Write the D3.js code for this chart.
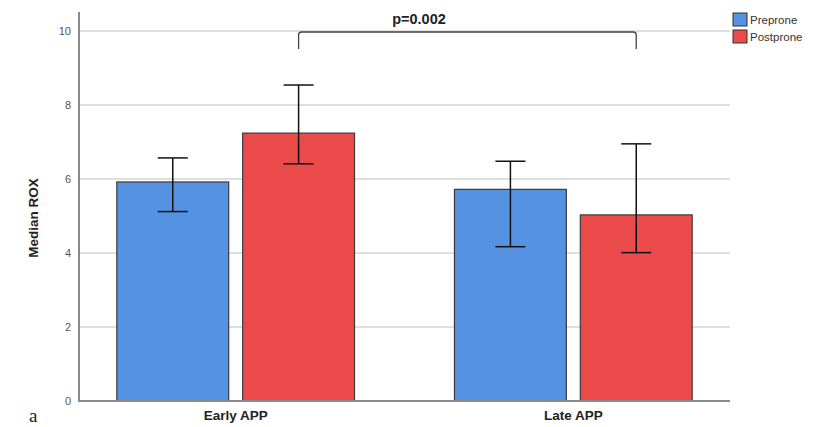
<!DOCTYPE html>
<html><head><meta charset="utf-8">
<script src="https://cdn.jsdelivr.net/npm/d3@7"></script>
<style>body{margin:0;background:#fff}svg{display:block}</style>
</head><body>
<svg id="c" width="820" height="427"></svg>
<script>
const categories = ["Early APP", "Late APP"];
const seriesNames = ["Preprone", "Postprone"];
const medians = [[5.92, 7.24], [5.72, 5.03]];
const errLow = [[5.12, 6.41], [4.17, 4.01]];
const errHigh = [[6.57, 8.54], [6.48, 6.95]];
const yTicks = [0, 2, 4, 6, 8, 10];
const colors = ["#5592e2", "#eb4b4b"];
const pText = "p=0.002";

(function(){
const svg = d3.select("#c");
const mLeft = 79, mRight = 730, mTop = 12, mBottom = 401;
const y = d3.scaleLinear().domain([0, 10]).range([mBottom, 31]);
const x0 = d3.scaleBand().domain(categories).range([mLeft, mRight]).paddingInner(0.296).paddingOuter(0.112);
const x1 = d3.scaleBand().domain(seriesNames).range([0, x0.bandwidth()]).paddingInner(0.111);

// gridlines
svg.append("g").selectAll("line").data(yTicks.filter(d => d > 0)).join("line")
  .attr("x1", mLeft).attr("x2", mRight).attr("y1", d => y(d)).attr("y2", d => y(d))
  .attr("stroke", "#d4d4d4").attr("stroke-width", 1.5);

// bars
const groups = svg.append("g").selectAll("g").data(categories).join("g")
  .attr("transform", d => `translate(${x0(d)},0)`);
groups.each(function(cat, ci) {
  const g = d3.select(this);
  seriesNames.forEach((s, si) => {
    g.append("rect").attr("x", x1(s)).attr("y", y(medians[ci][si]))
      .attr("width", x1.bandwidth()).attr("height", y(0) - y(medians[ci][si]))
      .attr("fill", colors[si]).attr("stroke", "#3a3a3a").attr("stroke-width", 1.2);
    const cx = x1(s) + x1.bandwidth() / 2;
    const lo = y(errLow[ci][si]), hi = y(errHigh[ci][si]);
    g.append("line").attr("x1", cx).attr("x2", cx).attr("y1", lo).attr("y2", hi)
      .attr("stroke", "#111").attr("stroke-width", 1.5);
    [lo, hi].forEach(v => g.append("line").attr("x1", cx - 15).attr("x2", cx + 15)
      .attr("y1", v).attr("y2", v).attr("stroke", "#111").attr("stroke-width", 1.5));
  });
});

// axes
const yAxis = svg.append("g").attr("transform", `translate(${mLeft},0)`)
  .call(d3.axisLeft(y).tickValues(yTicks).tickSize(0).tickPadding(8));
yAxis.select(".domain").remove();
yAxis.selectAll("text").attr("font-family", "Liberation Sans, Arial, sans-serif")
  .attr("font-size", 11).attr("fill", "#555");
svg.append("line").attr("x1", mLeft).attr("x2", mLeft).attr("y1", mTop).attr("y2", mBottom + 1)
  .attr("stroke", "#8a8a8a").attr("stroke-width", 2);
svg.append("line").attr("x1", mLeft).attr("x2", mRight).attr("y1", mBottom).attr("y2", mBottom)
  .attr("stroke", "#8a8a8a").attr("stroke-width", 2);

const xAxis = svg.append("g").attr("transform", `translate(0,${mBottom})`)
  .call(d3.axisBottom(x0).tickSize(0).tickPadding(9));
xAxis.select(".domain").remove();
xAxis.selectAll("text").attr("font-family", "Liberation Sans, Arial, sans-serif")
  .attr("font-size", 13.5).attr("font-weight", "bold").attr("fill", "#222");

// y label
svg.append("text").attr("transform", `translate(38,${(y(10) + mBottom) / 2 + 2}) rotate(-90)`)
  .attr("text-anchor", "middle").attr("font-family", "Liberation Sans, Arial, sans-serif")
  .attr("font-size", 13.5).attr("font-weight", "bold").attr("fill", "#222").text("Median ROX");

// panel letter
svg.append("text").attr("x", 29).attr("y", 422).attr("font-family", "Liberation Serif, Times New Roman, serif")
  .attr("font-size", 19).attr("fill", "#222").text("a");

// bracket
const bx1 = x0(categories[0]) + x1(seriesNames[1]) + x1.bandwidth() / 2;
const bx2 = x0(categories[1]) + x1(seriesNames[1]) + x1.bandwidth() / 2;
const by = 32, bEnd = 49, r = 3;
svg.append("path")
  .attr("d", `M${bx1},${bEnd} L${bx1},${by + r} Q${bx1},${by} ${bx1 + r},${by} L${bx2 - r},${by} Q${bx2},${by} ${bx2},${by + r} L${bx2},${bEnd}`)
  .attr("fill", "none").attr("stroke", "#444").attr("stroke-width", 1.3);
svg.append("text").attr("x", 419).attr("y", 24).attr("text-anchor", "middle")
  .attr("font-family", "Liberation Sans, Arial, sans-serif").attr("font-size", 14.5)
  .attr("font-weight", "bold").attr("fill", "#222").text(pText);

// legend
const lg = svg.append("g").selectAll("g").data(seriesNames).join("g")
  .attr("transform", (d, i) => `translate(733,${13 + i * 17})`);
lg.append("rect").attr("width", 14).attr("height", 13).attr("fill", (d, i) => colors[i])
  .attr("stroke", "#333").attr("stroke-width", 1);
lg.append("text").attr("x", 17).attr("y", 11).attr("font-family", "Liberation Sans, Arial, sans-serif")
  .attr("font-size", 11.5).attr("fill", "#333").text(d => d);
})();
</script>
</body></html>
